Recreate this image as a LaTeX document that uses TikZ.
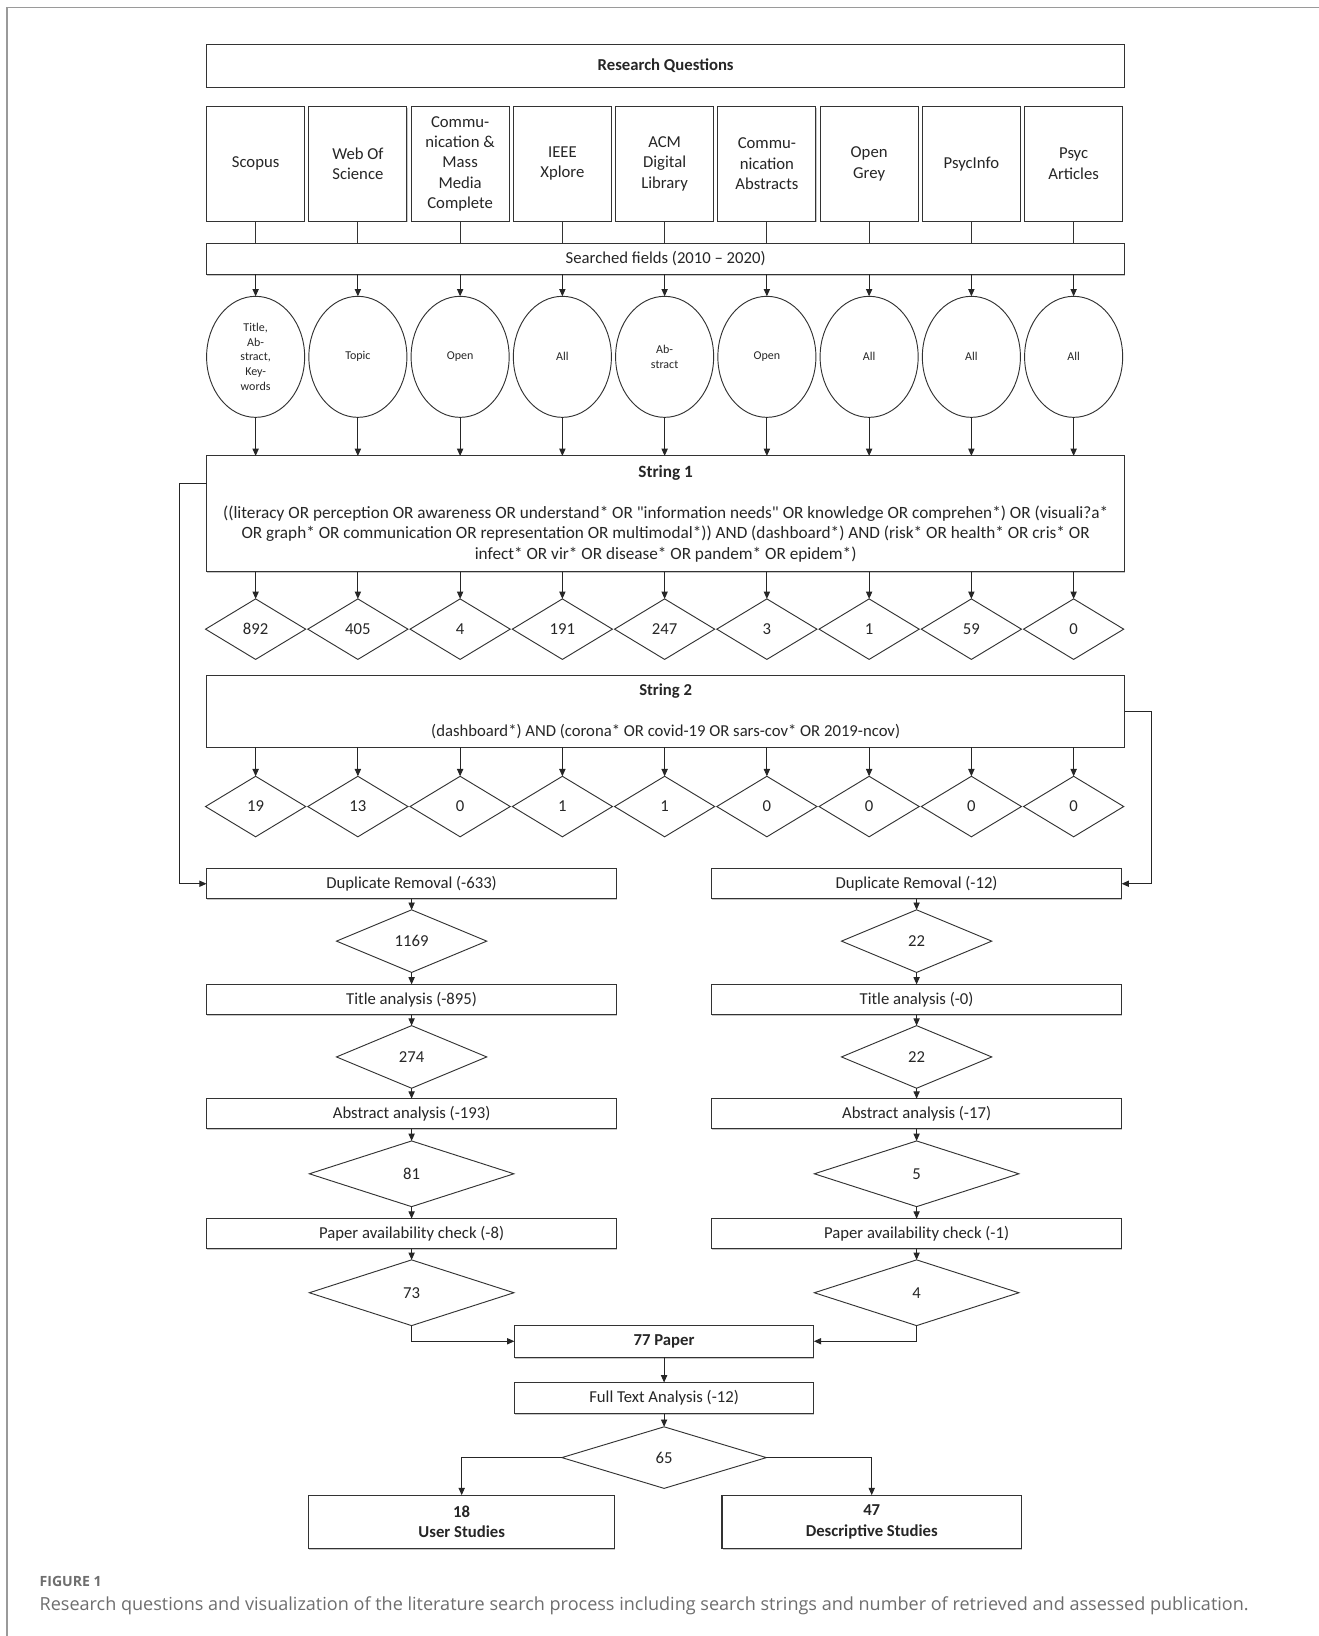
\documentclass[tikz,border=0pt]{standalone}
\usepackage{fontspec}
\setmainfont{Carlito}
\newfontfamily\capfont{Open Sans}
\usetikzlibrary{shapes.geometric,arrows.meta,shadows}
\definecolor{capgray}{HTML}{6E6E6E}
\tikzset{
  every node/.style={font=\fontsize{16}{19.5}\selectfont, text=black!85, inner sep=0pt, outer sep=0pt},
  box/.style={draw=black!80, fill=white, line width=1pt, rectangle, align=center, drop shadow={shadow xshift=0.6pt, shadow yshift=-1.2pt, opacity=0.45}},
  stage/.style={box, minimum width=393pt, minimum height=29pt},
  oval/.style={draw=black!80, line width=0.9pt, ellipse, minimum width=94pt, minimum height=116pt, align=center, font=\fontsize{11.5}{14}\selectfont},
  hits/.style={draw=black!80, line width=0.9pt, diamond, minimum width=96pt, minimum height=58pt},
  arr/.style={-{Triangle[length=7pt,width=6pt]}, line width=0.9pt, draw=black!85}
}
\begin{document}
\begin{tikzpicture}[x=1pt,y=-1pt]
\useasboundingbox (0,0) rectangle (1264,1568);
\draw[capgray!70, line width=1.5pt] (6.5,1568) -- (6.5,7) -- (1264,7);
\node[box, minimum width=880pt, minimum height=41pt, font=\fontsize{16}{19.5}\selectfont\bfseries] (rq) at (638,63) {Research Questions};
\node[box, minimum width=880pt, minimum height=30pt] (sf) at (638,248) {Searched fields (2010 -- 2020)};
\node[box, minimum width=880pt, minimum height=111pt, font=\fontsize{16.5}{19.5}\selectfont] (str1) at (638,492.5) {\textbf{String 1}\\[19.5pt]
((literacy OR perception OR awareness OR understand* OR \textquotedbl information needs\textquotedbl\ OR knowledge OR comprehen*) OR (visuali?a*\\
OR graph* OR communication OR representation OR multimodal*)) AND (dashboard*) AND (risk* OR health* OR cris* OR\\
infect* OR vir* OR disease* OR pandem* OR epidem*)};
\node[box, minimum width=880pt, minimum height=69pt] (str2) at (638,681.5) {\textbf{String 2}\\[19.5pt]
(dashboard*) AND (corona* OR covid-19 OR sars-cov* OR 2019-ncov)};
\foreach \i/\db/\fld in {0/Scopus/{Title,\\Ab-\\stract,\\Key-\\words}, 1/{Web Of\\Science}/Topic, 2/{Commu-\\nication \&\\Mass\\Media\\Complete}/Open, 3/{IEEE\\Xplore}/All, 4/{ACM\\Digital\\Library}/{Ab-\\stract}, 5/{Commu-\\nication\\Abstracts}/Open, 6/{Open\\Grey}/All, 7/PsycInfo/All, 8/{Psyc\\Articles}/All} {
  \node[box, minimum width=94pt, minimum height=110pt] (db\i) at (245+98*\i,157) {\db};
  \node[oval] (fld\i) at (245+98*\i,342) {\fld};
  \draw[line width=0.9pt, black!80] (db\i) -- (db\i |- sf.north);
  \draw[arr] (fld\i |- sf.south) -- (fld\i); \draw[arr] (fld\i) -- (fld\i |- str1.north);
}
\foreach \i/\a/\b in {0/892/19, 1/405/13, 2/4/0, 3/191/1, 4/247/1, 5/3/0, 6/1/0, 7/59/0, 8/0/0} {
  \node[hits] (hA\i) at (245+98*\i,603) {\a}; \node[hits] (hB\i) at (245+98*\i,773) {\b};
  \draw[arr] (hA\i |- str1.south) -- (hA\i); \draw[arr] (hB\i |- str2.south) -- (hB\i);
}
\node[stage] (dupL) at (394.5,847) {Duplicate Removal (-633)};
\node[hits, minimum width=144pt, minimum height=60pt] (nL1) at (394.5,902) {1169};
\node[stage] (titL) at (394.5,958) {Title analysis (-895)};
\node[hits, minimum width=144pt, minimum height=60pt] (nL2) at (394.5,1013) {274};
\node[stage] (absL) at (394.5,1067.5) {Abstract analysis (-193)};
\node[hits, minimum width=196pt, minimum height=63pt] (nL3) at (394.5,1125) {81};
\node[stage] (papL) at (394.5,1182.5) {Paper availability check (-8)};
\node[hits, minimum width=196pt, minimum height=63pt] (nL4) at (394.5,1239) {73};
\node[stage] (dupR) at (878.5,847) {Duplicate Removal (-12)};
\node[hits, minimum width=144pt, minimum height=60pt] (nR1) at (878.5,902) {22};
\node[stage] (titR) at (878.5,958) {Title analysis (-0)};
\node[hits, minimum width=144pt, minimum height=60pt] (nR2) at (878.5,1013) {22};
\node[stage] (absR) at (878.5,1067.5) {Abstract analysis (-17)};
\node[hits, minimum width=196pt, minimum height=63pt] (nR3) at (878.5,1125) {5};
\node[stage] (papR) at (878.5,1182.5) {Paper availability check (-1)};
\node[hits, minimum width=196pt, minimum height=63pt] (nR4) at (878.5,1239) {4};
\foreach \s in {L,R} {
  \draw[arr] (dup\s) -- (n\s1); \draw[arr] (n\s1) -- (tit\s); \draw[arr] (tit\s) -- (n\s2); \draw[arr] (n\s2) -- (abs\s);
  \draw[arr] (abs\s) -- (n\s3); \draw[arr] (n\s3) -- (pap\s); \draw[arr] (pap\s) -- (n\s4);
}
\coordinate (fbL) at (172,463); \coordinate (fbR) at (1104,682);
\draw[arr] (str1.west |- fbL) -- (fbL) |- (dupL.west);
\draw[arr] (str2.east |- fbR) -- (fbR) |- (dupR.east);
\node[box, minimum width=287pt, minimum height=31pt, font=\fontsize{16}{19.5}\selectfont\bfseries] (paper) at (636.5,1285.5) {77 Paper};
\node[box, minimum width=287pt, minimum height=30pt] (full) at (636.5,1340) {Full Text Analysis (-12)};
\node[hits, minimum width=196pt, minimum height=59pt] (n65) at (636.5,1397) {65};
\node[box, minimum width=293pt, minimum height=51pt, font=\fontsize{16}{19.5}\selectfont\bfseries] (user) at (442.5,1458.5) {18\\User Studies};
\node[box, minimum width=287pt, minimum height=51pt, font=\fontsize{16}{19.5}\selectfont\bfseries] (desc) at (835.5,1458.5) {47\\Descriptive Studies};
\draw[arr] (nL4.south) |- (paper.west); \draw[arr] (nR4.south) |- (paper.east);
\draw[arr] (paper) -- (full); \draw[arr] (full) -- (n65);
\draw[arr] (n65.west) -| (user.north); \draw[arr] (n65.east) -| (desc.north);
\node[anchor=base west, font=\capfont\bfseries\fontsize{13.5}{15}\selectfont, text=capgray] (fig) at (38,1521) {FIGURE 1};
\node[anchor=base west, font=\capfont\fontsize{17.3}{20}\selectfont, text=capgray] (cap) at (38,1544) {Research questions and visualization of the literature search process including search strings and number of retrieved and assessed publication.};
\end{tikzpicture}
\end{document}
